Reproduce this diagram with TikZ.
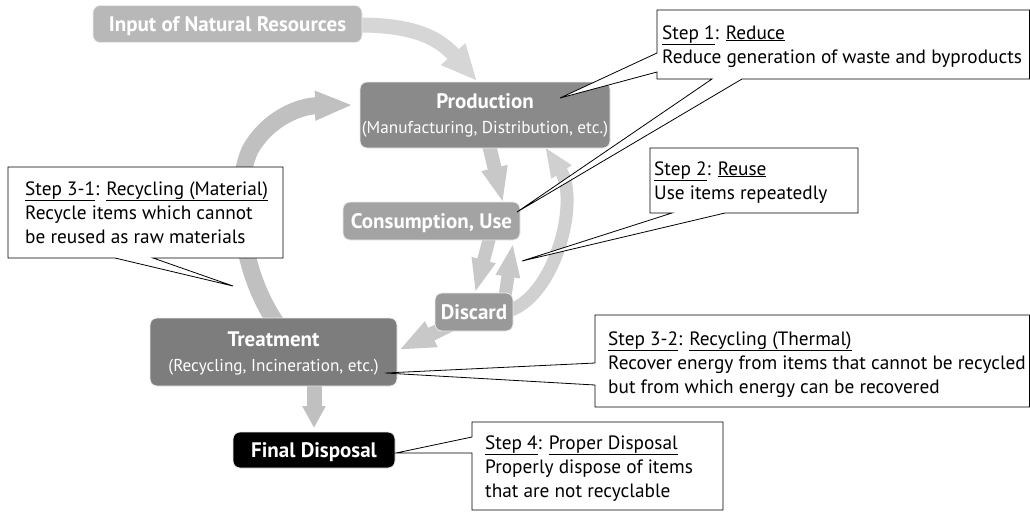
\documentclass[tikz,border=0pt]{standalone}
\usepackage{fontspec}
\setmainfont{PT Sans}
\usetikzlibrary{arrows.meta}
\definecolor{inbox}{HTML}{B8B8B8}
\definecolor{prodbox}{HTML}{8A8A8A}
\definecolor{consbox}{HTML}{A3A3A3}
\definecolor{discbox}{HTML}{999999}
\definecolor{treatbox}{HTML}{7D7D7D}
\definecolor{arrin}{HTML}{D6D6D6}
\definecolor{arrrec}{HTML}{C0C0C0}
\definecolor{arrsmall}{HTML}{C8C8C8}
\definecolor{arrarc}{HTML}{D0D0D0}
\tikzset{
  flowbox/.style={rounded corners=7pt, text=white, align=center, inner sep=0pt, draw=white!85!gray, line width=0.8pt},
  lbl/.style={font=\fontsize{21}{25}\selectfont\bfseries, text height=14.7pt, text depth=0pt},
  boxhead/.style={anchor=base, inner sep=0pt, text=white, font=\fontsize{21}{25}\selectfont\bfseries},
  boxsub/.style={anchor=base, inner sep=0pt, text=white, font=\fontsize{17.2}{25}\selectfont},
  fat/.style={line width=#1pt},
  callout/.style={fill=white, draw=black, line width=0.8pt},
  ctext/.style={anchor=base west, inner sep=0pt, font=\fontsize{19.3}{24}\selectfont},
}
\begin{document}
\begin{tikzpicture}[x=1pt,y=-1pt]
\useasboundingbox (0,0) rectangle (1030,512);
% arrows (behind boxes)
\coordinate (inS) at (350,25);
\coordinate (inE) at (477,81);
\draw[fat=15, arrin, -{Triangle[width=30pt,length=36pt]}] (inS) .. controls (410,24) and (437,36) .. (inE);
\coordinate (recS) at (277,324);
\coordinate (recM) at (250,150);
\coordinate (recE) at (353,105);
\draw[fat=17, arrrec, -{Triangle[width=27pt,length=38pt]}] (recS) .. controls (240,272) and (232,190) .. (recM) .. controls (268,118) and (300,106) .. (recE);
\coordinate (arcS) at (505,312);
\coordinate (arcE) at (545,147);
\draw[fat=13, arrarc, -{Triangle[width=22pt,length=30pt]}] (arcS) .. controls (555,300) and (580,200) .. (arcE);
\coordinate (dS) at (489,145);
\coordinate (dE) at (503,203);
\draw[fat=14, arrsmall, -{Triangle[width=24pt,length=36pt]}] (dS) -- (dE);
\coordinate (cS) at (490,236);
\coordinate (cE) at (475,293);
\draw[fat=13, arrsmall, -{Triangle[width=22pt,length=34pt]}] (cS) -- (cE);
\coordinate (bS) at (505,296);
\coordinate (bE) at (513,243);
\draw[fat=13, arrsmall, -{Triangle[width=22pt,length=34pt]}] (bS) -- (bE);
\coordinate (eS) at (452,324);
\coordinate (eE) at (399,350);
\draw[fat=14, arrsmall, -{Triangle[width=26pt,length=36pt]}] (eS) -- (eE);
\coordinate (fS) at (314,383);
\coordinate (fE) at (314,428);
\draw[fat=15, arrrec, -{Triangle[width=22pt,length=22pt]}] (fS) -- (fE);
% boxes
\node[flowbox, fill=inbox, minimum width=269pt, minimum height=37pt, lbl] (input) at (227.5,24) {Input of Natural Resources};
\node[flowbox, fill=prodbox, minimum width=250pt, minimum height=66pt] (prod) at (485,115) {};
\node[boxhead] (prodT) at (485,108) {Production};
\node[boxsub] (prodS) at (485,133) {(Manufacturing, Distribution, etc.)};
\node[flowbox, fill=consbox, minimum width=177pt, minimum height=38pt, lbl] (cons) at (431.5,221) {Consumption, Use};
\node[flowbox, fill=discbox, minimum width=78pt, minimum height=38pt, lbl] (disc) at (474,312) {Discard};
\node[flowbox, fill=treatbox, minimum width=247pt, minimum height=68pt] (treat) at (273.5,352) {};
\node[boxhead] (treatT) at (273.5,346) {Treatment};
\node[boxsub] (treatS) at (273.5,371) {(Recycling, Incineration, etc.)};
\node[flowbox, fill=black, minimum width=162pt, minimum height=36pt, lbl] (final) at (314,450) {Final Disposal};
% callouts
\path[callout] (657,10) -- (1029.5,10) -- (1029.5,79) -- (742,79) -- (517,212) -- (712,79) -- (657,79) -- (657,72) -- (560,98) -- (657,53) -- cycle;
\node[ctext] (s1a) at (662,39) {\underline{Step 1}: \underline{Reduce}};
\node[ctext] (s1b) at (662,63) {Reduce generation of waste and byproducts};
\path[callout] (650,148) -- (858,148) -- (858,213) -- (725,213) -- (522,261) -- (672,213) -- (650,213) -- cycle;
\node[ctext] (s2a) at (654,175) {\underline{Step 2}: \underline{Reuse}};
\node[ctext] (s2b) at (654,199) {Use items repeatedly};
\path[callout] (8,167) -- (283,167) -- (283,258) -- (153,258) -- (233,286) -- (115,258) -- (8,258) -- cycle;
\node[ctext] (s3a) at (25,195) {\underline{Step 3-1}: \underline{Recycling (Material)}};
\node[ctext] (s3b) at (25,219) {Recycle items which cannot};
\node[ctext] (s3c) at (25,243) {be reused as raw materials};
\path[callout] (595,315) -- (1029.5,315) -- (1029.5,407) -- (595,407) -- (595,385) -- (385,373) -- (595,363) -- cycle;
\node[ctext] (s4a) at (608,345) {\underline{Step 3-2}: \underline{Recycling (Thermal)}};
\node[ctext] (s4b) at (608,369) {Recover energy from items that cannot be recycled};
\node[ctext] (s4c) at (608,393) {but from which energy can be recovered};
\path[callout] (472,422) -- (723,422) -- (723,510) -- (472,510) -- (472,453) -- (396,453) -- (472,437) -- cycle;
\node[ctext] (s5a) at (485,449) {\underline{Step 4}: \underline{Proper Disposal}};
\node[ctext] (s5b) at (485,473) {Properly dispose of items};
\node[ctext] (s5c) at (485,497) {that are not recyclable};
\end{tikzpicture}
\end{document}
